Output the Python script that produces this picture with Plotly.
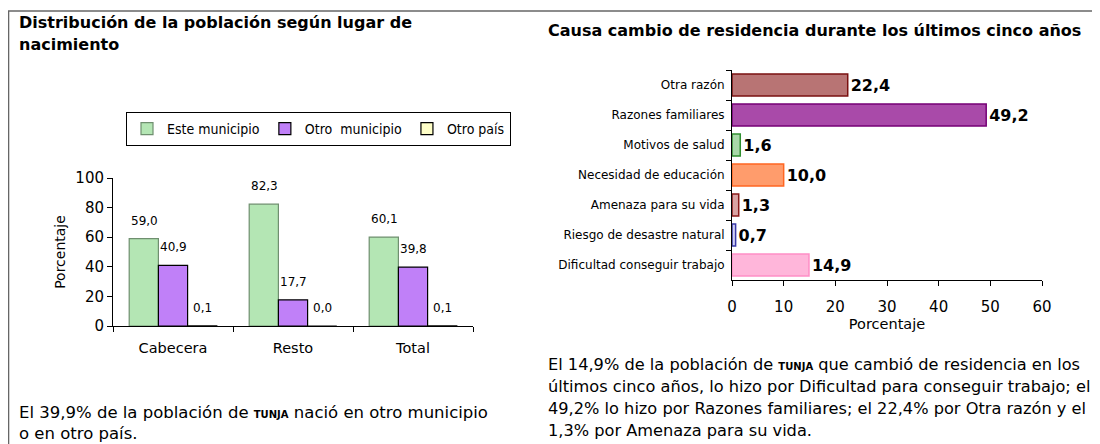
import plotly.graph_objects as go

# left chart: lugar de nacimiento
zonas = ["Cabecera", "Resto", "Total"]
este_municipio = [59.0, 82.3, 60.1]
otro_municipio = [40.9, 17.7, 39.8]
otro_pais = [0.1, 0.0, 0.1]

# right chart: causa cambio de residencia
causas = ["Otra razón", "Razones familiares", "Motivos de salud",
          "Necesidad de educación", "Amenaza para su vida",
          "Riesgo de desastre natural", "Dificultad conseguir trabajo"]
causa_pct = [22.4, 49.2, 1.6, 10.0, 1.3, 0.7, 14.9]

FONT = "DejaVu Sans, sans-serif"
COND = "DejaVu Sans Condensed, DejaVu Sans, sans-serif"
# the page body has an 8px margin, so the figure is a bit smaller than the window
OFF = 8
W, H = 1100 - OFF, 444 - OFF


def fmt(v):
    return f"{v:.1f}".replace(".", ",")


def px(x):
    return (x - OFF) / W


def py(y):
    return 1 - (y - OFF) / H


fig = go.Figure()

series = [
    ("Este municipio", este_municipio, "#b4e6b4", "#6f8f6f"),
    ("Otro  municipio", otro_municipio, "#c080f8", "#000000"),
    ("Otro país", otro_pais, "#ffffc8", "#000000"),
]
for i, (name, vals, fill, edge) in enumerate(series):
    fig.add_trace(go.Bar(
        x=zonas, y=vals, name=name, xaxis="x", yaxis="y",
        marker=dict(color=fill, line=dict(color=edge, width=1.2)),
    ))
    # value labels sit a bit higher above the bars than plotly's default
    for z, v in zip(zonas, vals):
        fig.add_annotation(x=z, y=v, xref="x", yref="y", text=fmt(v),
                           showarrow=False, xshift=(i - 1) * 29, yshift=18,
                           font=dict(family=FONT, size=12, color="#000000"))

fills = ["#b87474", "#a94aa9", "#a8d8a8", "#ff9c6c", "#d9a3a3", "#d0d0f4", "#ffb6da"]
edges = ["#7a1010", "#760076", "#2f8f2f", "#ff6622", "#8b1a1a", "#3a3aa8", "#ff8ec6"]
fig.add_trace(go.Bar(
    y=causas, x=causa_pct, orientation="h", xaxis="x2", yaxis="y2",
    showlegend=False,
    marker=dict(color=fills, line=dict(color=edges, width=1.5)),
    text=[fmt(v) for v in causa_pct], textposition="outside",
    textfont=dict(family=FONT, size=16, color="#000000"),
    texttemplate="<b>%{text}</b>",
    cliponaxis=False,
))

axis_common = dict(showline=True, linecolor="#000000", linewidth=1,
                   ticks="outside", ticklen=5, tickcolor="#000000",
                   showgrid=False, zeroline=False)

fig.update_layout(
    width=W, height=H,
    margin=dict(l=0, r=0, t=0, b=0, autoexpand=False),
    paper_bgcolor="#ffffff", plot_bgcolor="rgba(0,0,0,0)",
    font=dict(family=FONT, color="#000000"),
    barmode="group", bargap=0.27, bargroupgap=0,
    xaxis=dict(domain=[px(113), px(473)], anchor="y", tickson="boundaries",
               tickfont=dict(size=14.5), ticklabelstandoff=9, **axis_common),
    yaxis=dict(domain=[py(326), py(178)], anchor="x", range=[0, 100], dtick=20,
               tickfont=dict(size=15),
               title=dict(text="Porcentaje", font=dict(size=14), standoff=6),
               **axis_common),
    xaxis2=dict(domain=[px(732), px(1042)], anchor="y2", range=[0, 60], dtick=10,
                tickfont=dict(size=15), ticklabelstandoff=8,
                title=dict(text="Porcentaje", font=dict(size=14.5), standoff=2),
                **axis_common),
    yaxis2=dict(domain=[py(280), py(70)], anchor="x2", autorange="reversed",
                tickson="boundaries", tickfont=dict(size=12), ticklabelstandoff=4,
                **axis_common),
    legend=dict(orientation="h", x=px(126), y=py(112), xanchor="left", yanchor="top",
                bordercolor="#000000", borderwidth=1,
                font=dict(family=COND, size=14),
                itemwidth=30, tracegroupgap=0, traceorder="normal"),
    shapes=[
        dict(type="line", xref="paper", yref="paper", x0=0, x1=1, y0=py(11), y1=py(11),
             line=dict(color="#666666", width=1.5)),
        dict(type="line", xref="paper", yref="paper", x0=0.0005, x1=0.0005, y0=py(11), y1=0,
             line=dict(color="#666666", width=1.5)),
    ],
)

tunja = "<b><span style='font-size:10px'>TUNJA</span></b>"
# (left x, vertical centre, text, size, bold)
lines = [
    (18, 22, "Distribución de la población según lugar de", 16, True),
    (18, 45, "nacimiento", 16, True),
    (547, 30, "Causa cambio de residencia durante los últimos cinco años", 16, True),
    (18, 412, f"El 39,9% de la población de {tunja} nació en otro municipio", 16.5, False),
    (18, 433, "o en otro país.", 16.5, False),
    (547, 364, f"El 14,9% de la población de {tunja} que cambió de residencia en los", 16.2, False),
    (547, 386, "últimos cinco años, lo hizo por Dificultad para conseguir trabajo; el", 16.2, False),
    (547, 408, "49,2% lo hizo por Razones familiares; el 22,4% por Otra razón y el", 16.2, False),
    (547, 430, "1,3% por Amenaza para su vida.", 16.2, False),
]
for x, y, txt, size, bold in lines:
    fig.add_annotation(x=px(x), y=py(y), xref="paper", yref="paper",
                       text=f"<b>{txt}</b>" if bold else txt,
                       showarrow=False, xanchor="left", yanchor="middle", align="left",
                       borderpad=0, font=dict(size=size, color="#000000"))

fig.write_html("out.html")
